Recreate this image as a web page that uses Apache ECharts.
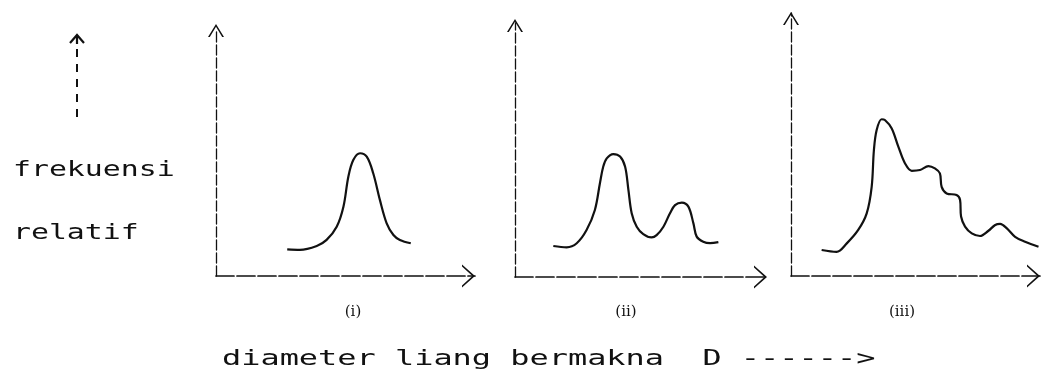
<!DOCTYPE html>
<html>
<head>
<meta charset="utf-8">
<script src="https://cdn.jsdelivr.net/npm/echarts@6/dist/echarts.min.js"></script>
<style>html,body{margin:0;padding:0;background:#fff}#c{width:1051px;height:377px}</style>
</head>
<body>
<div id="c"></div>
<script>
// Data (x = diameter, y = relative frequency, arbitrary units 0-100)
const curveI = [[27.5,10.9],[32.4,10.7],[38.9,12.3],[42.7,14.8],[46.6,20.2],[49.2,28.4],[51.1,40.7],[53.0,47.5],[55.6,50.3],[58.2,48.9],[60.7,42.1],[63.3,31.1],[65.9,21.6],[68.5,16.8],[71.0,14.8],[75.2,13.4]];
const curveII = [[15.2,12.2],[20.5,11.7],[24.5,13.3],[28.4,18.5],[31.7,26.4],[33.7,36.9],[35.0,43.4],[36.4,46.7],[39.0,48.4],[41.7,47.4],[43.7,43.4],[45.0,34.3],[46.3,25.1],[48.3,19.8],[50.9,16.9],[54.2,15.6],[56.2,16.5],[58.9,19.8],[61.5,25.1],[63.5,28.3],[66.2,29.3],[68.8,27.7],[70.8,21.1],[72.1,15.9],[74.7,13.9],[77.4,13.3],[80.7,13.7]];
const curveIII = [[12.3,9.9],[18.3,9.2],[22.4,12.4],[27.0,17.5],[30.4,23.8],[32.4,33.9],[33.3,47.9],[34.4,55.5],[36.4,59.6],[37.7,59.3],[40.4,56.2],[43.1,49.2],[45.8,42.8],[48.5,40.0],[51.8,40.3],[55.2,41.8],[57.8,40.9],[59.8,39.0],[60.5,33.9],[62.5,31.4],[66.5,30.8],[67.9,28.9],[68.3,22.6],[69.9,18.8],[72.6,16.2],[75.9,15.2],[79.3,17.2],[82.0,19.4],[84.0,19.8],[86.7,18.1],[90.0,14.9],[94.0,13.0],[99.4,11.1]];
const panelLabels = ['(i)', '(ii)', '(iii)'];
const yTitle = ['frekuensi', 'relatif'];
const xTitle = 'diameter liang bermakna  D ------>';

const ink = '#111';
const xChevron = 'path://M0,13 L11.5,0 L23,13 L21,13 L11.5,2.6 L2,13 Z';
const yChevron = 'path://M0,13 L8,0 L16,13 L14.2,13 L8,2.8 L1.8,13 Z';
const grids = [
  {left:216, top:32, width:259, height:244},
  {left:515, top:23, width:252, height:254},
  {left:791, top:13, width:249, height:263}
];
const yArrowOffset = [1.5, -2.5, -5.5];
const curves = [curveI, curveII, curveIII];
function xAx(i){return {type:'value', gridIndex:i, min:0, max:100, axisLabel:{show:false}, axisTick:{show:false}, splitLine:{show:false},
  axisLine:{show:true, symbol:['none', xChevron], symbolSize:[23,13], symbolOffset:[0,-6.5], lineStyle:{color:ink, width:1.7, type:[18,3]}}};}
function yAx(i){return {type:'value', gridIndex:i, min:0, max:100, axisLabel:{show:false}, axisTick:{show:false}, splitLine:{show:false},
  axisLine:{show:true, symbol:['none', yChevron], symbolSize:[16,13], symbolOffset:[0,yArrowOffset[i]], lineStyle:{color:ink, width:1.3, type:[10,3]}}};}

const chart = echarts.init(document.getElementById('c'), null, {renderer:'canvas'});
const labelX = [353, 626, 902];
const mono = '"DejaVu Sans Mono", "Liberation Mono", monospace';
const graphics = [
  {type:'text', x:13, y:171, scaleX:1.42, style:{text:yTitle[0], fontFamily:mono, fontSize:21, fill:ink, verticalAlign:'middle'}},
  {type:'text', x:13, y:234, scaleX:1.42, style:{text:yTitle[1], fontFamily:mono, fontSize:21, fill:ink, verticalAlign:'middle'}},
  {type:'text', x:222, y:360, scaleX:1.52, style:{text:xTitle, fontFamily:mono, fontSize:21, fill:ink, verticalAlign:'middle'}},
  {type:'line', shape:{x1:77, y1:117, x2:77, y2:44}, style:{stroke:ink, lineWidth:2, lineDash:[8,7]}},
  {type:'polyline', shape:{points:[[70,43],[77,35],[84,43]]}, style:{stroke:ink, lineWidth:2.2, fill:null}},
  {type:'line', shape:{x1:77, y1:36, x2:77, y2:44}, style:{stroke:ink, lineWidth:2.2}}
];
panelLabels.forEach((t,i)=>graphics.push({type:'text', x:labelX[i], y:312, style:{text:t, fontFamily:'"DejaVu Serif", serif', fontSize:15, fill:ink, align:'center', verticalAlign:'middle'}}));

chart.setOption({
  animation:false,
  backgroundColor:'#fff',
  grid: grids,
  xAxis: [0,1,2].map(xAx),
  yAxis: [0,1,2].map(yAx),
  series: curves.map((d,i)=>({type:'line', xAxisIndex:i, yAxisIndex:i, data:d, smooth:0.35, showSymbol:false,
    lineStyle:{color:ink, width:2.2}})),
  graphic: graphics
});
</script>
</body>
</html>
